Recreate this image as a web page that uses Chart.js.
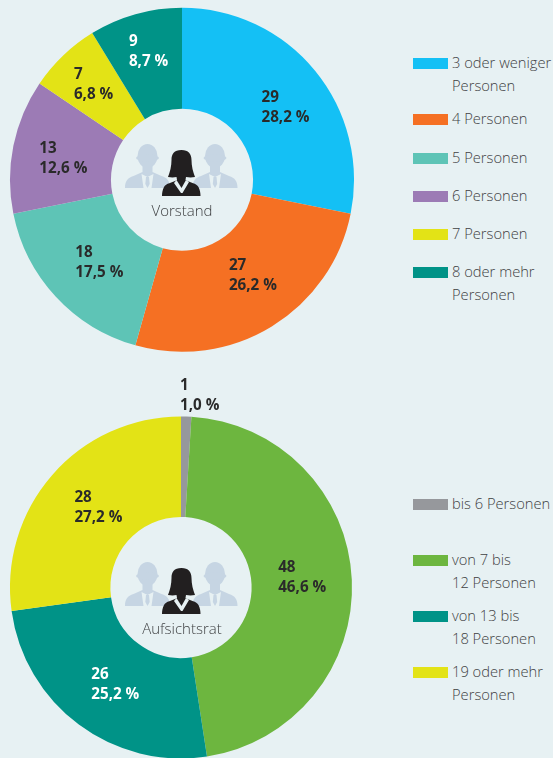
<!DOCTYPE html>
<html><head><meta charset="utf-8">
<script src="https://cdn.jsdelivr.net/npm/chart.js@4"></script>
<style>
html,body{margin:0;padding:0;background:#E7F1F3;width:553px;height:758px;overflow:hidden}
canvas{position:absolute}
.sw{position:absolute;left:413px;width:35px;height:11px}
.lg{position:absolute;left:452px;font:300 14.7px/22.6px "Open Sans";color:#3f4143;white-space:pre}
.ct{position:absolute;width:120px;text-align:center;font:300 15px "Open Sans";color:#3f4143}
svg{position:absolute;overflow:visible}
</style></head><body>
<canvas id="c1" style="left:0;top:0"></canvas>
<canvas id="c2" style="left:0;top:370px"></canvas>
<div id="overlay"></div>
<script>
const vorstandLabels=["3 oder weniger\nPersonen","4 Personen","5 Personen","6 Personen","7 Personen","8 oder mehr\nPersonen"];
const vorstandCounts=[29,27,18,13,7,9];
const vorstandPercents=["28,2 %","26,2 %","17,5 %","12,6 %","6,8 %","8,7 %"];
const vorstandColors=["#14C0F5","#F57023","#5EC4B6","#9C7BB5","#E3E316","#009387"];
const vorstandText=["#2a2a2a","#2a2a2a","#2a2a2a","#2a2a2a","#2a2a2a","#ffffff"];
const vorstandNudge=[[9.5,5],[7.5,-7.5],[6.5,0],[0.5,3],[-4.5,-7.5],[-0.5,-11.5]];
const vorstandLegendTop=[58,114,153,191,229,267];

const aufsichtLabels=["bis 6 Personen","von 7 bis\n12 Personen","von 13 bis\n18 Personen","19 oder mehr\nPersonen"];
const aufsichtCounts=[1,48,26,28];
const aufsichtPercents=["1,0 %","46,6 %","25,2 %","27,2 %"];
const aufsichtColors=["#96989C","#6DB63F","#009387","#E3E316"];
const aufsichtText=["#2a2a2a","#2a2a2a","#ffffff","#2a2a2a"];
const aufsichtNudge=[[15,-71],[0.5,-4],[6.5,0],[8.5,0]];
const aufsichtLegendTop=[499,555,611,667];

const sliceLabels={id:'sliceLabels',afterDatasetsDraw(chart,_,o){
  const ctx=chart.ctx,meta=chart.getDatasetMeta(0);
  ctx.save();ctx.font='700 15.2px "Open Sans"';ctx.textAlign='left';ctx.textBaseline='middle';
  meta.data.forEach((arc,i)=>{
    const p=arc.getCenterPoint(),cnt=String(chart.data.datasets[0].data[i]),pct=o.percents[i];
    const w=ctx.measureText(pct).width,x=p.x+o.nudge[i][0]-w/2,y=p.y+o.nudge[i][1];
    ctx.fillStyle=o.text[i];
    ctx.fillText(cnt,x,y-10);ctx.fillText(pct,x,y+10);
  });
  ctx.restore();
}};

function makeChart(id,w,h,padding,labels,data,colors,cutout,percents,text,nudge){
  const c=document.getElementById(id);c.style.width=w+'px';c.style.height=h+'px';c.width=w;c.height=h;
  return new Chart(c,{type:'doughnut',
    data:{labels:labels.map(s=>s.replace('\n',' ')),datasets:[{data,backgroundColor:colors,borderWidth:0,hoverOffset:0}]},
    options:{responsive:false,animation:false,cutout,layout:{padding},
      plugins:{legend:{display:false},tooltip:{enabled:false},sliceLabels:{percents,text,nudge}}},
    plugins:[sliceLabels]});
}
makeChart('c1',364,360,{left:10,right:10,top:7.5,bottom:8},vorstandLabels,vorstandCounts,vorstandColors,'41.3%',vorstandPercents,vorstandText,vorstandNudge);
makeChart('c2',362,390,{left:10,right:10,top:46.5,bottom:1.5},aufsichtLabels,aufsichtCounts,aufsichtColors,'41.3%',aufsichtPercents,aufsichtText,aufsichtNudge);

const ov=document.getElementById('overlay');
function legend(labels,colors,tops){
  labels.forEach((l,i)=>{
    const s=document.createElement('div');s.className='sw';s.style.top=tops[i]+'px';s.style.background=colors[i];ov.appendChild(s);
    const t=document.createElement('div');t.className='lg';t.style.top=(tops[i]-7)+'px';t.textContent=l;ov.appendChild(t);
  });
}
legend(vorstandLabels,vorstandColors,vorstandLegendTop);
legend(aufsichtLabels,aufsichtColors,aufsichtLegendTop);

function icon(x,y,caption,capTop){
  const man='<ellipse cx="0" cy="-13" rx="10" ry="12" fill="#C6D5E3"/><ellipse cx="0" cy="-11" rx="11.5" ry="3.5" fill="#C6D5E3"/>'+
   '<path d="M-22.5 19 C-22.5 12 -20 9 -14 7 L-5 3 L-5 -4 L5 -4 L5 3 L14 7 C20 9 22.5 12 22.5 19 Z" fill="#C6D5E3"/>'+
   '<path d="M-6 5 L0 8 L6 5 L4 19 L-4 19 Z" fill="#E7F1F3"/><path d="M-1.5 8 L1.5 8 L2.2 15 L0 19 L-2.2 15 Z" fill="#C6D5E3"/>';
  const html='<svg style="left:'+x+'px;top:'+y+'px" width="116" height="48" viewBox="0 0 116 48">'+
   '<g transform="translate(22.5,19)">'+man+'</g><g transform="translate(90,19)">'+man+'</g>'+
   '<path d="M56.5 0 C49 0 46.5 4 46.5 10 C46.5 16 45 22 43 27 C46 27.5 49 27.5 51.5 27 L52 30 C47 33 41 33 39 37 C37.5 40 37 43 37 46 L75.5 46 C75.5 43 75 40 73.5 37 C71.5 33 65.5 33 60.5 30 L61 27 C64 27.5 67 27.5 70 27 C68 22 66.5 16 66.5 10 C66.5 4 63.5 0 56.5 0 Z" fill="#221F20"/>'+
   '<path d="M51.5 30 L56.5 38 L61 30 L64 32 L57.5 43 L56 43 L49 33 Z" fill="#E7F1F3"/></svg>';
  ov.insertAdjacentHTML('beforeend',html);
  ov.insertAdjacentHTML('beforeend','<div class="ct" style="left:122px;top:'+capTop+'px">'+caption+'</div>');
}
icon(125,150,'Vorstand',200);
icon(125,568,'Aufsichtsrat',618);
</script></body></html>
